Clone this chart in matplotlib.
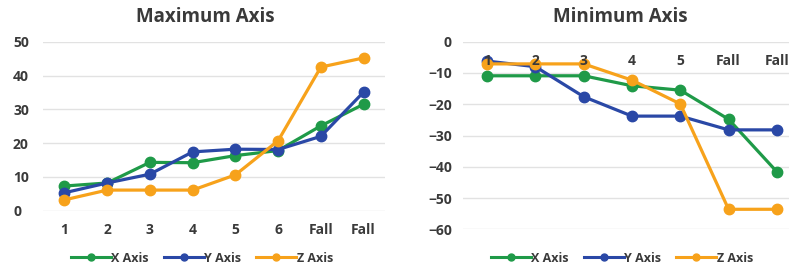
import matplotlib
matplotlib.use("Agg")
import matplotlib.pyplot as plt
from matplotlib.lines import Line2D

plt.rcParams['font.family'] = ['Open Sans', 'DejaVu Sans']

max_cats = ["1", "2", "3", "4", "5", "6", "Fall", "Fall"]
max_x = [7.3, 8.2, 14.3, 14.2, 16.3, 17.8, 25.1, 31.5]
max_y = [5.3, 8.2, 10.8, 17.4, 18.2, 18.1, 22.0, 35.1]
max_z = [3.2, 6.1, 6.1, 6.1, 10.6, 20.7, 42.5, 45.2]

min_cats = ["1", "2", "3", "4", "5", "Fall", "Fall"]
min_x = [-10.9, -10.9, -10.9, -14.1, -15.5, -24.8, -41.6]
min_y = [-6.2, -8.0, -17.6, -23.8, -23.8, -28.2, -28.2]
min_z = [-7.1, -7.1, -7.1, -12.3, -19.9, -53.6, -53.6]

series_names = ["X Axis", "Y Axis", "Z Axis"]
colors = ["#1f9a48", "#2a48a6", "#f7a21b"]
txt = "#3a3a3a"
grid = "#e2e2e2"

W, H = 789, 272
fig = plt.figure(figsize=(W / 100, H / 100), dpi=100)
PT = 72 / 100  # points per pixel

def style(ax):
    for s in ax.spines.values():
        s.set_visible(False)
    ax.grid(axis='y', color=grid, linewidth=1.0)
    ax.set_axisbelow(True)
    ax.tick_params(length=0, labelsize=10, labelcolor=txt)
    for lab in ax.get_xticklabels() + ax.get_yticklabels():
        lab.set_fontweight('bold')

legend_handles = [Line2D([], [], color=c, lw=2.2, marker='o', ms=5) for c in colors]

def add_legend(cx):
    fig.legend(handles=legend_handles, labels=series_names, loc='center',
               bbox_to_anchor=(cx / W, 1 - 258 / H), ncol=3, frameon=False,
               handlelength=3.2, columnspacing=1.2, handletextpad=0.05,
               prop={'weight': 'bold', 'size': 9}, labelcolor=txt)

# Left chart
ax1 = fig.add_axes([43 / W, (H - 210.7) / H, 342 / W, 169 / H])
for vals, name, c in zip([max_x, max_y, max_z], series_names, colors):
    ax1.plot(range(len(max_cats)), vals, color=c, lw=2.3, marker='o', ms=7.5, label=name)
ax1.set_xlim(-0.5, len(max_cats) - 0.5)
ax1.set_ylim(0, 50)
ax1.set_yticks(range(0, 51, 10))
ax1.set_xticks(range(len(max_cats)))
ax1.set_xticklabels(max_cats)
ax1.tick_params(axis='x', pad=9)
ax1.tick_params(axis='y', pad=30 * PT)
style(ax1)
for lab in ax1.get_yticklabels():
    lab.set_horizontalalignment('left')
fig.text(205 / W, 1 - 17 / H, "Maximum Axis", ha='center', va='center',
         fontsize=13.5, fontweight='bold', color=txt)
add_legend(202)

# Right chart
ax2 = fig.add_axes([463 / W, (H - 229.3) / H, 338 / W, 187.6 / H])
for vals, name, c in zip([min_x, min_y, min_z], series_names, colors):
    ax2.plot(range(len(min_cats)), vals, color=c, lw=2.3, marker='o', ms=7.5, label=name)
ax2.set_xlim(-0.5, len(min_cats) - 0.5)
ax2.set_ylim(-60, 0)
ax2.set_yticks(range(-60, 1, 10))
ax2.set_xticks(range(len(min_cats)))
ax2.set_xticklabels(min_cats)
ax2.xaxis.tick_top()
ax2.tick_params(axis='x', pad=-19)
ax2.tick_params(axis='y', pad=11 * PT)
style(ax2)
ax2.xaxis.set_zorder(3)
fig.text(620 / W, 1 - 17 / H, "Minimum Axis", ha='center', va='center',
         fontsize=13.5, fontweight='bold', color=txt)
add_legend(622)

fig.savefig("out.png", dpi=100)
